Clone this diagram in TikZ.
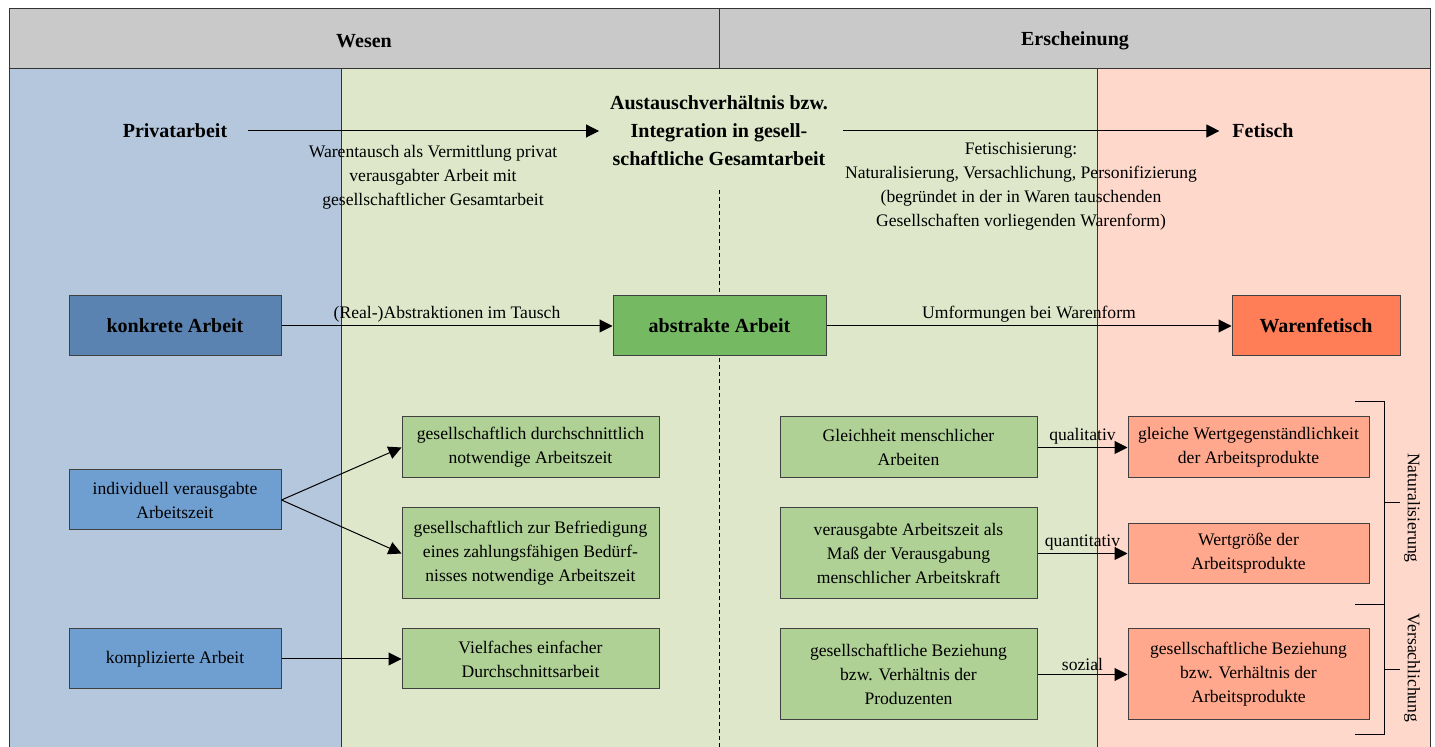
\documentclass[tikz,border=0pt]{standalone}
\usepackage{fontspec}
\setmainfont{Liberation Serif}
\usetikzlibrary{arrows.meta}

\definecolor{headgray}{HTML}{C9C9C9}
\definecolor{wesenblue}{HTML}{B4C7DC}
\definecolor{austgreen}{HTML}{DEE7CA}
\definecolor{fetpink}{HTML}{FFD8CC}
\definecolor{konkblue}{HTML}{5B83B1}
\definecolor{indblue}{HTML}{6F9ED1}
\definecolor{abstgreen}{HTML}{75BA63}
\definecolor{lightgreen}{HTML}{AFD195}
\definecolor{warenred}{HTML}{FF7E58}
\definecolor{lightred}{HTML}{FFA88D}

\newcommand{\boxfont}{\fontsize{8.8}{12}\selectfont}
\newcommand{\titlefont}{\fontsize{10}{14}\selectfont\bfseries}

\tikzset{
  panel/.style={draw=black!80, line width=0.5pt},
  box/.style={draw=black!75, line width=0.5pt, align=center, font=\boxfont, inner sep=0pt},
  bigbox/.style={box, font=\titlefont, minimum width=106pt, minimum height=30pt},
  smallbox/.style={box, fill=indblue, minimum width=106pt, minimum height=30pt},
  greenbox/.style={box, fill=lightgreen, minimum width=128.5pt},
  redbox/.style={box, fill=lightred, minimum width=120.5pt},
  title/.style={font=\titlefont, align=center},
  note/.style={font=\boxfont, align=center},
  lab/.style={font=\boxfont, inner sep=1.5pt},
  link/.style={->, line width=0.5pt}
}

\begin{document}
\begin{tikzpicture}[x=0.5pt, y=-0.5pt, >={Triangle[length=6.5pt,width=6.5pt]}]
  \useasboundingbox (0,0) rectangle (1435,747);
  \clip (0,0) rectangle (1435,747);

  % Header
  \draw[panel, fill=headgray] (9,9) rectangle (1430,69);
  \draw[panel] (719,9) -- (719,69);
  \node[title] (wesen) at (364,41) {Wesen};
  \node[title] (erscheinung) at (1075,41) {Erscheinung};

  % Background panels
  \draw[panel, fill=wesenblue] (9,69) rectangle (341,760);
  \draw[panel, fill=austgreen] (341,69) rectangle (1097,760);
  \draw[panel, fill=fetpink] (1097,69) rectangle (1430,760);

  % Dividing line Wesen / Erscheinung
  \draw[line width=0.5pt, dash pattern=on 2pt off 1.5pt] (719,190) -- (719,760);

  % Top row
  \node[title] (priv) at (175,131) {Privatarbeit};
  \node[title] (aus) at (719,131) {Austauschverhältnis bzw.\\Integration in gesell-\\schaftliche Gesamtarbeit};
  \node[title] (fet) at (1263,131) {Fetisch};
  \draw[link] ([xshift=7pt]priv.east) -- ([xshift=-2pt]aus.west);
  \draw[link] ([xshift=4pt]aus.east) -- ([xshift=-3pt]fet.west);
  \node[note] (tauschlab) at (433,177) {Warentausch als Vermittlung privat\\verausgabter Arbeit mit\\gesellschaftlicher Gesamtarbeit};
  \node[note] (fetlab) at (1021,186) {Fetischisierung:\\Naturalisierung, Versachlichung, Personifizierung\\(begründet in der in Waren tauschenden\\Gesellschaften vorliegenden Warenform)};

  % Second row
  \node[bigbox, fill=konkblue] (konkret) at (175,326) {konkrete Arbeit};
  \node[bigbox, fill=abstgreen, minimum width=106.5pt] (abstrakt) at (719.5,326) {abstrakte Arbeit};
  \node[bigbox, fill=warenred, minimum width=84pt] (warenfet) at (1316,326) {Warenfetisch};
  \draw[link] (konkret) -- node[above, lab] (abstrlab) {(Real-)Abstraktionen im Tausch} (abstrakt);
  \draw[link] (abstrakt) -- node[above, lab] (umflab) {Umformungen bei Warenform} (warenfet);

  % Wesen side
  \node[smallbox] (indiv) at (175,500) {individuell verausgabte\\Arbeitszeit};
  \node[smallbox] (kompl) at (175,659) {komplizierte Arbeit};
  \node[greenbox, minimum height=30.5pt] (durchschn) at (530.5,447.5) {gesellschaftlich durchschnittlich\\notwendige Arbeitszeit};
  \node[greenbox, minimum height=45.5pt] (befried) at (530.5,553.5) {gesellschaftlich zur Befriedigung\\eines zahlungsfähigen Bedürf-\\nisses notwendige Arbeitszeit};
  \node[greenbox, minimum height=30pt] (vielfach) at (530.5,659) {Vielfaches einfacher\\Durchschnittsarbeit};
  \draw[link] (indiv.east) -- (durchschn.west);
  \draw[link] (indiv.east) -- (befried.west);
  \draw[link] (kompl) -- (vielfach);

  % Erscheinung side
  \node[greenbox, minimum height=30.5pt] (gleich) at (908.5,447.5) {Gleichheit menschlicher\\Arbeiten};
  \node[greenbox, minimum height=45.5pt] (mass) at (908.5,553.5) {verausgabte Arbeitszeit als\\Maß der Verausgabung\\menschlicher Arbeitskraft};
  \node[greenbox, minimum height=45.5pt] (bezprod) at (908.5,674.5) {gesellschaftliche Beziehung\\bzw. Verhältnis der\\Produzenten};
  \node[redbox, minimum height=30.5pt] (wertgeg) at (1248.5,447.5) {gleiche Wertgegenständlichkeit\\der Arbeitsprodukte};
  \node[redbox, minimum height=30pt] (wertgr) at (1248.5,553.5) {Wertgröße der\\Arbeitsprodukte};
  \node[redbox, minimum height=45.5pt] (bezarb) at (1248.5,674.5) {gesellschaftliche Beziehung\\bzw. Verhältnis der\\Arbeitsprodukte};
  \draw[link] (gleich) -- node[above, lab] (quallab) {qualitativ} (wertgeg);
  \draw[link] (mass) -- node[above, lab] (quantlab) {quantitativ} (wertgr);
  \draw[link] (bezprod) -- node[above, lab] (soziallab) {sozial} (bezarb);

  % Brackets
  \draw[line width=0.5pt] (1355,402) -- (1384,402) -- (1384,735) -- (1355,735);
  \draw[line width=0.5pt] (1355,605) -- (1384,605);
  \draw[line width=0.5pt] (1384,503) -- (1400,503);
  \draw[line width=0.5pt] (1384,670) -- (1400,670);
  \node[note, rotate=-90] (natlab) at (1412,508) {Naturalisierung};
  \node[note, rotate=-90] (verslab) at (1412,668) {Versachlichung};

\end{tikzpicture}
\end{document}
